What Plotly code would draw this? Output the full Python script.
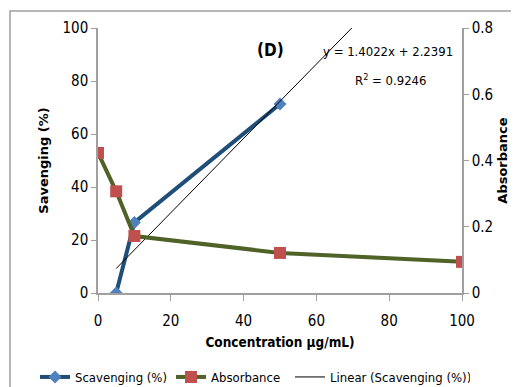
import plotly.graph_objects as go

# Data
scav_x = [5, 10, 50]
scav_y = [0, 26.6, 71.3]
abs_x = [0, 5, 10, 50, 100]
abs_y = [0.423, 0.307, 0.172, 0.121, 0.094]
trend_slope = 1.4022
trend_intercept = 2.2391
trend_x = [5, 70]
trend_y = [trend_slope * v + trend_intercept for v in trend_x]
x_ticks = [0, 20, 40, 60, 80, 100]
left_ticks = [0, 20, 40, 60, 80, 100]
right_ticks = [0, 0.2, 0.4, 0.6, 0.8]
right_labels = ["0", "0.2", "0.4", "0.6", "0.8"]

FONT = "Liberation Sans Narrow, DejaVu Sans Condensed, Arial Narrow, sans-serif"
BOLD = "DejaVu Sans, Arial, sans-serif"

# page offset from default body margin
OFF = 8
W, H = 519 - OFF, 387 - OFF
# plot area in page pixels
PL, PR, PT, PB = 98, 462, 28, 293
L, T = PL - OFF, PT - OFF
R, B = W - (PR - OFF), H - (PB - OFF)
pw, ph = PR - PL, PB - PT

def px2x(p):
    return (p - PL) / pw

def py2y(p):
    return (PB - p) / ph

fig = go.Figure()
fig.add_trace(go.Scatter(
    x=scav_x, y=scav_y, name="Scavenging (%)", mode="lines+markers", legendrank=1,
    legendwidth=91,
    line=dict(color="#1F4E79", width=4),
    marker=dict(symbol="diamond", size=10, color="#4F81BD"),
))
fig.add_trace(go.Scatter(
    x=abs_x, y=abs_y, yaxis="y2", name="Absorbance", mode="lines+markers", legendrank=2,
    legendwidth=74,
    line=dict(color="#4F6228", width=4),
    marker=dict(symbol="square", size=12, color="#C0504D"),
))
fig.add_trace(go.Scatter(
    x=trend_x, y=trend_y, name="Linear (Scavenging (%))", mode="lines", legendrank=3,
    legendwidth=135,
    line=dict(color="black", width=1),
))

fig.update_layout(
    width=W, height=H,
    margin=dict(l=L, r=R, t=T, b=B, autoexpand=False),
    paper_bgcolor="white", plot_bgcolor="white",
    font=dict(family=FONT, size=15, color="black"),
    showlegend=True,
    legend=dict(orientation="h", x=px2x(35), xanchor="left", y=py2y(377), yanchor="middle",
                font=dict(size=13), itemwidth=30, borderwidth=0,
                bgcolor="rgba(0,0,0,0)"),
    xaxis=dict(range=[0, 100], tickvals=x_ticks, showgrid=False, zeroline=False,
               showline=True, linecolor="#A0A0A0", linewidth=1.5,
               ticks="outside", ticklen=6, tickcolor="#A0A0A0", ticklabelstandoff=7,
               title=dict(text="<b>Concentration µg/mL)</b>", font=dict(size=13.5), standoff=9)),
    yaxis=dict(range=[0, 100], tickvals=left_ticks, showgrid=False, zeroline=False,
               showline=True, linecolor="#A0A0A0", linewidth=1.5,
               ticks="outside", ticklen=5, tickcolor="#A0A0A0",
               title=dict(text="<b>Savenging (%)</b>", font=dict(family=BOLD, size=13), standoff=11)),
    yaxis2=dict(range=[0, 0.8], tickvals=right_ticks, ticktext=right_labels,
                overlaying="y", side="right",
                showgrid=False, zeroline=False,
                showline=True, linecolor="#A0A0A0", linewidth=1.5,
                ticks="outside", ticklen=5, tickcolor="#A0A0A0",
                title=dict(text="<b>Absorbance</b>", font=dict(family=BOLD, size=13), standoff=6)),
)

fig.add_annotation(xref="paper", yref="paper", x=px2x(270), y=py2y(50), text="<b>(D)</b>",
                   xanchor="center", yanchor="middle", showarrow=False, font=dict(size=17))
fig.add_annotation(xref="paper", yref="paper", x=px2x(388), y=py2y(52),
                   xanchor="center", yanchor="middle",
                   text="y = 1.4022x + 2.2391", showarrow=False, font=dict(size=13))
fig.add_annotation(xref="paper", yref="paper", x=px2x(390), y=py2y(80),
                   xanchor="center", yanchor="middle",
                   text="R<sup>2</sup> = 0.9246", showarrow=False, font=dict(size=13))

fig.add_shape(type="rect", xref="paper", yref="paper",
              x0=px2x(10), x1=px2x(540), y0=py2y(400), y1=py2y(11),
              line=dict(color="#A0A0A0", width=1.5), layer="below")

fig.write_html("out.html")
